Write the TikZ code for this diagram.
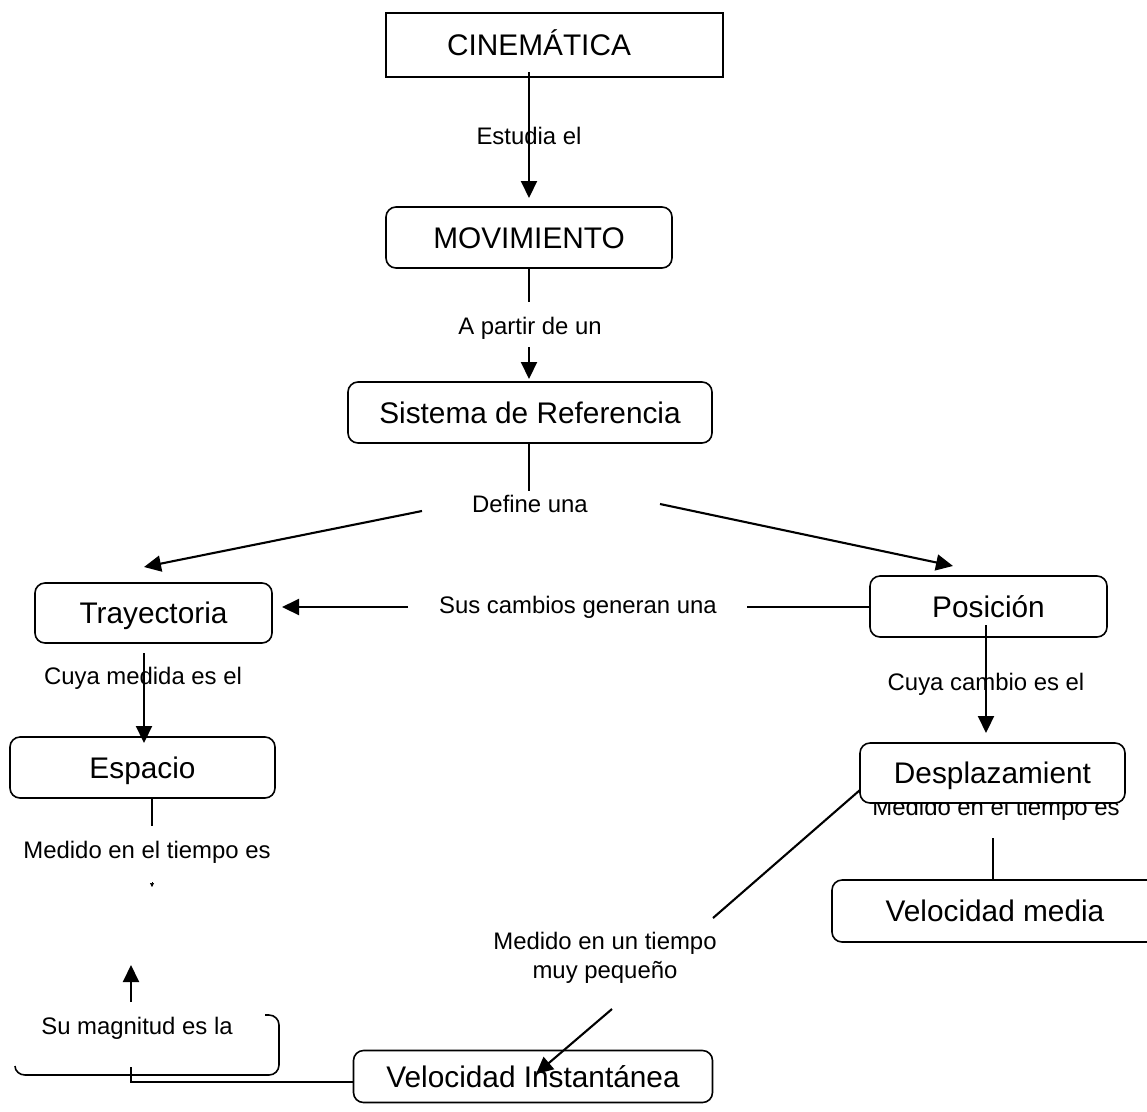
\documentclass[tikz,border=0pt]{standalone}
\usepackage{fontspec}
\setmainfont{Liberation Sans}
\usetikzlibrary{arrows.meta}
\newcommand\boxfont{\fontsize{29.8}{34}\selectfont}
\newcommand\lblfont{\fontsize{23.9}{29}\selectfont}
\tikzset{
  rbox/.style={draw, rounded corners=10pt, line width=1.6pt, fill=white, inner sep=0pt, font=\boxfont, text height=27pt, text depth=6pt},
  sqbox/.style={draw, line width=1.6pt, fill=white, inner sep=0pt, font=\boxfont},
  lbl/.style={inner sep=0pt, font=\lblfont, align=center},
  ln/.style={line width=2.1pt},
  arr/.style={line width=2.1pt, -{Triangle[length=17pt,width=16pt]}},
}
\begin{document}
\begin{tikzpicture}[x=1pt,y=-1pt]
\useasboundingbox (0,0) rectangle (1147,1111);
\clip (0,0) rectangle (1147,1111);

% labels drawn before boxes (partly hidden)
\node[lbl] (lMedD) at (996,809) {Medido en el tiempo es};

% boxes
\node[sqbox, minimum width=337pt, minimum height=64pt] (cin) at (554.5,45) {};
\node[inner sep=0pt, font=\boxfont, text height=27pt, text depth=6pt] (cinT) at (539,45) {CINEMÁTICA};
\node[rbox, minimum width=286pt, minimum height=61pt] (mov) at (529,237.5) {MOVIMIENTO};
\node[rbox, minimum width=364pt, minimum height=61pt] (sis) at (530,412.5) {Sistema de Referencia};
\node[rbox, minimum width=237pt, minimum height=60pt] (tra) at (153.5,613) {Trayectoria};
\node[rbox, minimum width=237pt, minimum height=61pt] (pos) at (988.5,606.5) {Posición};
\node[rbox, minimum width=265pt, minimum height=61pt] (esp) at (142.5,767.5) {Espacio};
\node[rbox, minimum width=265pt, minimum height=60pt] (des) at (992.5,773) {Desplazamient};
\node[rbox, minimum width=326pt, minimum height=62pt] (vme) at (995,911) {Velocidad media};
\node[rbox, minimum width=359pt, minimum height=52pt] (vin) at (533,1076.5) {Velocidad Instantánea};

% labels
\node[lbl] (lEst) at (529,136) {Estudia el};
\node[lbl] (lApa) at (530,328) {A partir de un};
\node[lbl] (lDef) at (530,504) {Define una};
\node[lbl] (lSus) at (578,607) {Sus cambios generan una};
\node[lbl] (lCuM) at (143,678) {Cuya medida es el};
\node[lbl] (lCuC) at (986,684) {Cuya cambio es el};
\node[lbl] (lMedE) at (147,852) {Medido en el tiempo es};
\node[lbl] (lMin) at (605,958) {Medido en un tiempo\\muy pequeño};
\node[lbl] (lMag) at (137,1028) {Su magnitud es la};

% coordinates for free ends
\coordinate (a1s) at (529,72);   \coordinate (a1e) at (529,198);
\coordinate (a2s) at (529,268);  \coordinate (a2e) at (529,302);
\coordinate (a3s) at (529,347);  \coordinate (a3e) at (529,379);
\coordinate (a4s) at (529,443);  \coordinate (a4e) at (529,491);
\coordinate (a5s) at (422,511);  \coordinate (a5e) at (144,567);
\coordinate (a6s) at (660,504);  \coordinate (a6e) at (953,566);
\coordinate (a7s) at (408,607);  \coordinate (a7e) at (282,607);
\coordinate (a8s) at (747,607);
\coordinate (a9s) at (144,653);  \coordinate (a9e) at (144,743);
\coordinate (b1s) at (986,625);  \coordinate (b1e) at (986,733);
\coordinate (b2s) at (993,838);
\coordinate (b3s) at (152,798);  \coordinate (b3e) at (152,826);
\coordinate (b4s) at (152,882);  \coordinate (b4e) at (152,887);
\coordinate (b5s) at (131,1002); \coordinate (b5e) at (131,965);
\coordinate (b6s) at (131,1067); \coordinate (b6c) at (131,1082);
\coordinate (b7s) at (860,790);  \coordinate (b7e) at (713,918);
\coordinate (b8s) at (612,1009); \coordinate (b8e) at (536,1074);

% connectors
\draw[arr] (a1s) -- (a1e);
\draw[ln] (a2s) -- (a2e);
\draw[arr] (a3s) -- (a3e);
\draw[ln] (a4s) -- (a4e);
\draw[arr] (a5s) -- (a5e);
\draw[arr] (a6s) -- (a6e);
\draw[arr] (a7s) -- (a7e);
\draw[ln] (a8s) -- (pos.west |- a8s);
\draw[arr] (a9s) -- (a9e);
\draw[arr] (b1s) -- (b1e);
\draw[ln] (b2s) -- (vme.north -| b2s);
\draw[ln] (b3s) -- (b3e);
\draw[-{Triangle[length=4pt,width=4pt]}, line width=0.6pt] (b4s) -- (b4e);
\draw[arr] (b5s) -- (b5e);
\draw[ln] (b6s) -- (b6c) -- (vin.west |- b6c);
\draw[ln] (b7s) -- (b7e);
\draw[arr] (b8s) -- (b8e);

% partial bracket around "Su magnitud es la"
\draw[line width=1.6pt] (265,1015) -- (269,1015) to[out=0,in=90] (279,1025) -- (279,1065)
  to[out=-90,in=0] (269,1075) -- (25,1075) to[out=180,in=-90] (15,1066);
\end{tikzpicture}
\end{document}
